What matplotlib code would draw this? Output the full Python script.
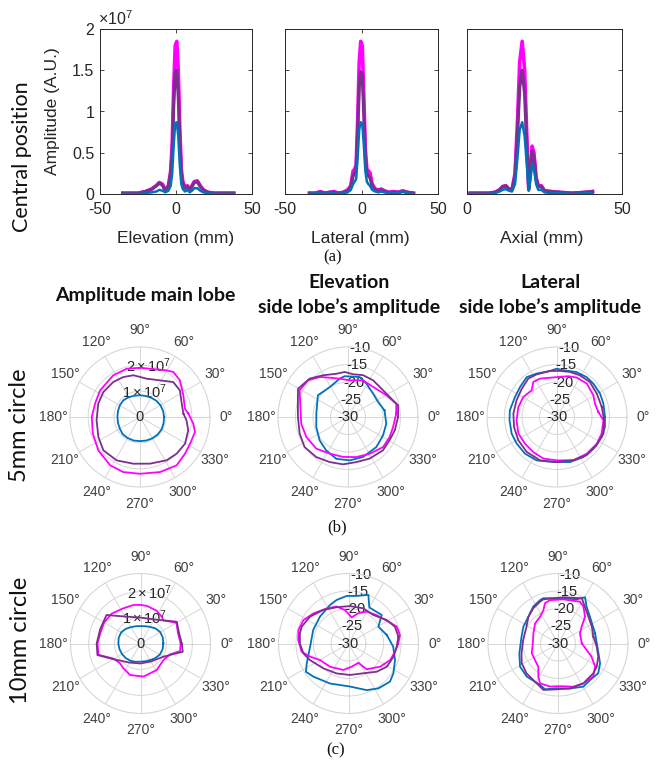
import numpy as np
import matplotlib
matplotlib.use('Agg')
import matplotlib.pyplot as plt

plt.rcParams['font.family'] = ['Liberation Sans', 'DejaVu Sans']
plt.rcParams['mathtext.fontset'] = 'custom'
plt.rcParams['mathtext.rm'] = 'Liberation Sans'
plt.rcParams['mathtext.it'] = 'Liberation Sans:italic'
plt.rcParams['mathtext.bf'] = 'Liberation Sans:bold'
plt.rcParams['axes.unicode_minus'] = False

# ---------------- data: (a) central position profiles (amplitude x 1e7) -------------
x_elev = [-35, -30, -25, -20, -16, -13, -11, -9, -7, -5, -3.5, -2.5, -1.5, -0.5, 0.5, 1.5,
          2.5, 3.5, 4.5, 6, 7.5, 9, 10.5, 12, 14, 16, 18, 21, 25, 30, 35, 38]
elev_mag = [0.01, 0.01, 0.01, 0.03, 0.06, 0.10, 0.14, 0.12, 0.05, 0.10, 0.28, 0.60, 1.30, 1.80,
            1.85, 1.50, 0.80, 0.30, 0.15, 0.08, 0.10, 0.06, 0.10, 0.15, 0.16, 0.10, 0.05, 0.02,
            0.01, 0.01, 0.01, 0.01]
elev_pur = [0.01, 0.01, 0.01, 0.03, 0.06, 0.10, 0.13, 0.11, 0.04, 0.09, 0.25, 0.50, 1.10, 1.48,
            1.50, 1.20, 0.65, 0.25, 0.12, 0.07, 0.09, 0.05, 0.09, 0.14, 0.15, 0.09, 0.05, 0.02,
            0.01, 0.01, 0.01, 0.01]
elev_blu = [0.0, 0.0, 0.0, 0.01, 0.02, 0.03, 0.05, 0.04, 0.02, 0.04, 0.10, 0.25, 0.60, 0.86,
            0.87, 0.70, 0.35, 0.12, 0.06, 0.03, 0.05, 0.02, 0.04, 0.07, 0.07, 0.04, 0.02, 0.01,
            0.0, 0.0, 0.0, 0.0]

x_lat = [-34, -30, -27, -24, -21, -18, -15, -12, -9, -7, -5.5, -4.5, -3.5, -2.5, -1.5, -0.5,
         0.5, 1.5, 2.5, 3.5, 4.5, 5.5, 7, 9, 11, 13, 15, 18, 21, 24, 27, 30, 34]
lat_mag = [0.01, 0.01, 0.03, 0.01, 0.02, 0.03, 0.01, 0.02, 0.05, 0.10, 0.28, 0.30, 0.35, 0.90,
           1.60, 1.85, 1.80, 1.20, 0.55, 0.30, 0.28, 0.26, 0.12, 0.06, 0.05, 0.06, 0.04, 0.02,
           0.03, 0.02, 0.04, 0.02, 0.01]
lat_pur = [0.01, 0.01, 0.02, 0.01, 0.02, 0.02, 0.01, 0.02, 0.04, 0.09, 0.22, 0.25, 0.30, 0.75,
           1.30, 1.48, 1.45, 1.00, 0.45, 0.25, 0.22, 0.20, 0.10, 0.05, 0.04, 0.05, 0.03, 0.02,
           0.02, 0.02, 0.03, 0.02, 0.01]
lat_blu = [0.0, 0.01, 0.01, 0.0, 0.01, 0.01, 0.0, 0.01, 0.02, 0.05, 0.12, 0.15, 0.18, 0.45,
           0.78, 0.87, 0.85, 0.60, 0.28, 0.15, 0.12, 0.10, 0.05, 0.03, 0.02, 0.03, 0.02, 0.01,
           0.01, 0.01, 0.03, 0.01, 0.0]

x_ax = [1, 4, 7, 9, 10.5, 11.5, 12.5, 13.5, 14.5, 15.5, 16.3, 17, 17.8, 18.6, 19.3, 19.9,
        20.5, 21, 21.6, 22.3, 23, 24, 25, 27, 30, 34, 38, 40.5]
ax_mag = [0.01, 0.01, 0.01, 0.02, 0.05, 0.09, 0.10, 0.06, 0.05, 0.25, 0.90, 1.60, 1.85, 1.50,
          0.70, 0.08, 0.30, 0.58, 0.50, 0.20, 0.10, 0.10, 0.04, 0.03, 0.02, 0.01, 0.02, 0.03]
ax_pur = [0.01, 0.01, 0.01, 0.02, 0.05, 0.09, 0.10, 0.06, 0.05, 0.22, 0.75, 1.30, 1.50, 1.22,
          0.58, 0.05, 0.28, 0.52, 0.45, 0.18, 0.09, 0.09, 0.04, 0.03, 0.02, 0.01, 0.02, 0.03]
ax_blu = [0.0, 0.0, 0.0, 0.01, 0.03, 0.05, 0.06, 0.04, 0.03, 0.12, 0.45, 0.78, 0.87, 0.70,
          0.35, 0.04, 0.18, 0.37, 0.30, 0.12, 0.05, 0.05, 0.02, 0.01, 0.01, 0.0, 0.01, 0.01]

# ---------------- data: (b) 5 mm circle -------------------------------------------
# main lobe amplitude (x 1e7)
b1_blu_th = [0, 15, 30, 45, 60, 75, 90, 105, 120, 135, 150, 165, 180, 195, 210, 225, 240, 255,
             270, 285, 300, 315, 330, 345]
b1_blu_r = [0.93, 0.92, 0.91, 0.89, 0.86, 0.84, 0.84, 0.85, 0.88, 0.91, 0.90, 0.88, 0.87, 0.88,
            0.90, 0.94, 0.94, 0.94, 0.93, 0.94, 0.95, 0.96, 0.96, 0.94]
b1_mag_th = [4, 10.5, 26.6, 42.5, 53.5, 60.3, 78.3, 90, 105.4, 122.6, 146.3, 163.5, 180, 199.4,
             218.7, 238.2, 253, 270, 290, 307.2, 320.8, 332, 344.7, 352.9]
b1_mag_r = [1.87, 1.76, 1.87, 2.09, 2.16, 2.07, 1.90, 1.90, 1.93, 1.91, 1.85, 1.81, 1.86, 1.93,
            2.06, 2.19, 2.22, 2.19, 2.26, 2.34, 2.24, 2.19, 2.20, 2.07]
b1_pur_th = [4.4, 17.7, 33.7, 46.4, 61.4, 80, 99, 112.6, 127.3, 145.7, 162.3, 184.4, 205.6,
             222.3, 241.7, 261.9, 282.1, 301.6, 315, 329.3, 344.6, 355.9]
b1_pur_r = [1.68, 1.69, 1.85, 1.86, 1.61, 1.50, 1.63, 1.67, 1.70, 1.71, 1.69, 1.68, 1.78, 1.91,
            1.90, 1.82, 1.84, 1.96, 2.00, 2.02, 1.93, 1.80]

# elevation side lobe amplitude (dB)
b2_blu_th = [10.3, 26.6, 43, 61.2, 73.7, 94.7, 102.3, 121.4, 144.2, 174, 197.5, 219.5, 237,
             254.4, 272.2, 290.6, 313.4, 332.4, 350.1]
b2_blu_r = [-19.4, -20.4, -20.2, -19.1, -18.1, -18.3, -18.8, -20.0, -19.4, -20.9, -20.5, -19.5,
            -18.6, -17.6, -17.6, -17.8, -18.2, -18.7, -18.9]
b2_mag_th = [3.9, 15.4, 29.5, 50.2, 67.8, 87.4, 102.3, 115, 125.3, 137.5, 151.1, 168.2, 188.1,
             205.6, 225, 243.4, 262.9, 281.8, 300.6, 319.4, 334.4, 347.5]
b2_mag_r = [-16.2, -15.7, -17.4, -18.8, -18.7, -19.5, -18.8, -17.6, -16.0, -14.5, -14.2, -16.1,
            -16.5, -16.8, -17.2, -18.3, -18.5, -18.3, -17.8, -16.8, -16.8, -16.8]
b2_pur_th = [0, 13.1, 20.3, 37.3, 55.7, 70.2, 83.3, 94.2, 105.1, 121, 135, 150.5, 161.6, 180,
             199, 214.7, 231.6, 247.8, 264, 280.5, 297.5, 316.4, 330.8, 344.1]
b2_pur_r = [-15.7, -15.3, -16.3, -17.4, -17.3, -17.3, -17.7, -17.1, -17.2, -16.1, -14.5, -13.6,
            -14.9, -15.7, -15.4, -14.9, -15.4, -16.1, -16.4, -16.9, -16.6, -16.2, -16.4, -16.1]

# lateral side lobe amplitude (dB)
b3_blu_th = [0, 16.1, 28.5, 42.5, 53.4, 66.4, 82.3, 90.4, 98.7, 115.1, 127.2, 140.9, 154.5,
             171.9, 184, 200.2, 213.5, 228.9, 244.9, 265.3, 286.1, 303.4, 318.9, 335.9, 348.2]
b3_blu_r = [-16.3, -16.2, -16.0, -15.9, -15.8, -16.0, -16.5, -16.2, -16.7, -16.3, -15.7, -16.4,
            -16.7, -16.4, -16.4, -16.2, -16.2, -16.1, -16.3, -17.1, -16.6, -16.3, -16.2, -16.0,
            -16.0]
b3_pur_th = [12.6, 30.5, 46.7, 61.1, 73.9, 86.3, 98.7, 115.5, 126.8, 141.3, 157.5, 175.6, 193.1,
             211.1, 229.1, 248.6, 269.6, 290.7, 307.7, 324.5, 340.2, 356]
b3_pur_r = [-16.9, -16.8, -16.3, -16.4, -16.6, -16.8, -16.7, -16.5, -16.3, -17.1, -17.5, -17.5,
            -17.4, -17.1, -16.8, -16.7, -17.1, -16.8, -16.2, -16.1, -15.9, -16.5]
b3_mag_th = [6.9, 19.3, 30.8, 48.3, 63.4, 74.4, 85.7, 100.1, 113.9, 124.1, 133.5, 149.3, 165.5,
             184.7, 203.3, 219.8, 235.9, 251.8, 269.6, 290.7, 308.9, 326.1, 339.5, 355.9]
b3_mag_r = [-18.1, -18.5, -17.9, -17.2, -17.4, -17.9, -18.5, -18.6, -18.0, -17.9, -19.5, -18.8,
            -18.6, -18.4, -18.0, -18.1, -17.9, -17.5, -17.6, -16.8, -16.5, -16.3, -16.4, -16.7]

# ---------------- data: (c) 10 mm circle ------------------------------------------
c1_blu_th = [0, 15, 30, 45, 60, 75, 90, 105, 120, 135, 150, 165, 180, 195, 210, 225, 240, 255,
             270, 285, 300, 315, 330, 345]
c1_blu_r = [0.88, 0.89, 0.88, 0.82, 0.74, 0.69, 0.67, 0.69, 0.73, 0.80, 0.86, 0.87, 0.855,
            0.84, 0.82, 0.80, 0.77, 0.73, 0.70, 0.71, 0.74, 0.80, 0.86, 0.88]
c1_mag_th = [0, 15, 30, 45, 52, 64, 80, 90, 100.5, 116, 134, 150, 165, 180, 195, 210, 224,
             235.3, 251.6, 275, 301.4, 324.2, 340, 349]
c1_mag_r = [1.55, 1.50, 1.60, 1.26, 1.32, 1.41, 1.47, 1.49, 1.51, 1.51, 1.60, 1.62, 1.60, 1.66,
            1.68, 1.18, 1.10, 1.16, 1.28, 1.28, 1.20, 1.09, 1.22, 1.55]
c1_pur_th = [0, 15, 31, 45, 60, 90, 120, 140, 160, 180, 195, 210, 240, 270, 300, 330, 340, 349]
c1_pur_r = [1.59, 1.54, 1.63, 1.26, 1.07, 1.00, 1.20, 1.71, 1.65, 1.69, 1.72, 1.21, 0.85, 0.77,
            0.80, 1.02, 1.26, 1.66]

c2_blu_th = [12.6, 29.4, 40.7, 60, 67.8, 80.2, 92.2, 105.2, 115.7, 136.7, 159, 184.7, 205.4,
             213.5, 223.3, 245.1, 272, 291.3, 303.6, 317.4, 326.4, 340.5, 356]
c2_blu_r = [-18.8, -20.2, -17.5, -18.1, -15.0, -16.2, -16.4, -17.1, -17.8, -18.8, -19.2, -19.0,
            -16.8, -15.4, -16.2, -17.4, -17.7, -15.7, -14.6, -13.9, -14.6, -15.9, -17.2]
c2_mag_th = [0, 9.4, 19.3, 28.7, 45.3, 60.3, 72, 83.1, 96, 107.8, 121.8, 139.4, 152.5, 164.9,
             176, 189.9, 198.9, 210.1, 231.4, 259, 277.8, 297.2, 305.1, 323.7, 338.3, 350]
c2_mag_r = [-15.8, -15.1, -15.4, -17.0, -18.6, -19.5, -20.9, -22.5, -20.4, -18.9, -18.2, -16.8,
            -15.5, -15.2, -15.6, -16.4, -18.4, -20.6, -21.5, -22.3, -23.3, -23.8, -21.0, -18.8,
            -17.2, -16.5]
c2_pur_th = [7.8, 19.9, 31.6, 48.9, 67.1, 87.7, 108.1, 126.9, 145.1, 160.2, 168.2, 180, 192.3,
             203.2, 224.6, 248.4, 272.7, 296.4, 315, 328.7, 343.6, 356.2]
c2_pur_r = [-15.6, -15.9, -17.2, -19.2, -19.1, -19.3, -19.1, -18.0, -16.6, -15.8, -15.8, -16.1,
            -16.8, -18.0, -19.9, -20.8, -21.0, -20.5, -18.6, -17.2, -16.6, -16.2]

c3_blu_th = [15.4, 40, 52.1, 59.7, 67.1, 83.3, 108, 112.5, 123.8, 137.9, 154.1, 169.3, 194.3,
             211.4, 226.6, 246.6, 254.2, 268.3, 285, 300.4, 311.2, 323.5, 334.7, 346.3]
c3_blu_r = [-19.0, -18.1, -16.7, -14.7, -16.3, -17.0, -16.4, -16.6, -17.3, -18.6, -19.0, -19.4,
            -18.6, -17.3, -17.0, -17.1, -16.4, -17.2, -16.7, -15.7, -16.1, -15.7, -16.7, -18.1]
c3_pur_th = [10.9, 26.6, 41.5, 53.8, 62.3, 83.4, 108.4, 113.3, 125, 137.9, 151.8, 174.2, 195.1,
             208.6, 223.6, 235.9, 252.5, 268.3, 285, 302.5, 319.8, 329.1, 341.9, 355.3]
c3_pur_r = [-19.7, -19.2, -18.4, -17.0, -15.4, -16.7, -16.7, -17.0, -17.7, -18.6, -19.8, -20.0,
            -19.2, -18.2, -17.6, -17.4, -16.1, -16.9, -16.7, -16.5, -16.8, -17.1, -17.9, -18.9]
c3_mag_th = [0.4, 24.8, 35.4, 44.8, 55.5, 62.3, 83.1, 100.4, 107.9, 113.6, 123.9, 138.8, 157.6,
             179.6, 200.5, 215.7, 229.7, 239.3, 245.7, 259.5, 272.7, 289.6, 302.5, 316.8, 328,
             338.6, 347.2]
c3_mag_r = [-23.2, -23.1, -21.7, -19.1, -17.2, -16.5, -17.3, -17.4, -17.9, -19.6, -20.8, -21.3,
            -22.4, -22.8, -22.0, -21.9, -21.3, -19.0, -17.5, -17.5, -17.8, -16.9, -16.5, -16.2,
            -17.5, -19.7, -21.6]

theta_ticks = list(range(0, 360, 30))
main_rticks = [1, 2]
main_rlabels = ['0', r'$1\times10^7$', r'$2\times10^7$']
side_rticks = [-25, -20, -15]
side_rlabels = ['-30', '-25', '-20', '-15', '-10']

# ---------------- styling ---------------------------------------------------------
BLUE = '#0072BD'
MAG = '#FF00FF'
PUR = '#7E2F8E'
TXT = '#262626'
GRID = '#D6D6D6'

W, H = 668, 769
fig = plt.figure(figsize=(W / 100, H / 100), dpi=100)


def box(l, t, w, h):
    return [l / W, 1 - (t + h) / H, w / W, h / H]


def fx(x):
    return x / W


def fy(y):
    return 1 - y / H


# ---------------- (a) top row -----------------------------------------------------
profiles = [
    (x_elev, elev_mag, elev_pur, elev_blu, (-50, 50), [-50, 0, 50], box(100, 29, 152, 165),
     'Elevation (mm)', 176),
    (x_lat, lat_mag, lat_pur, lat_blu, (-50, 50), [-50, 0, 50], box(285, 29, 153, 165),
     'Lateral (mm)', 360),
    (x_ax, ax_mag, ax_pur, ax_blu, (0, 50), [0, 50], box(467, 29, 155, 165),
     'Axial (mm)', 542),
]
for i, (xx, ym, yp, yb, xl, xt, rect, lab, lx) in enumerate(profiles):
    ax = fig.add_axes(rect)
    ax.plot(xx, ym, color=MAG, lw=2.6, solid_joinstyle='round')
    ax.plot(xx, yp, color=PUR, lw=2.4, solid_joinstyle='round')
    ax.plot(xx, yb, color=BLUE, lw=1.8, solid_joinstyle='round')
    ax.set_xlim(*xl)
    ax.set_ylim(0, 2)
    ax.set_xticks(xt)
    ax.set_xticklabels([str(v) for v in xt])
    ax.set_yticks([0, 0.5, 1, 1.5, 2])
    if i == 0:
        ax.set_yticklabels(['0', '0.5', '1', '1.5', '2'])
    else:
        ax.set_yticklabels([])
    ax.tick_params(direction='in', top=True, right=True, length=3, width=0.6,
                   labelsize=11.5, colors=TXT, pad=4)
    ax.tick_params(axis='x', pad=6)
    for s in ax.spines.values():
        s.set_color(TXT)
        s.set_linewidth(0.7)
    fig.text(fx(lx), fy(238), lab, ha='center', va='center', fontsize=12.5, color=TXT)

fig.text(fx(98), fy(19), r'$\times10^7$', ha='left', va='center', fontsize=11.5, color=TXT)
fig.text(fx(52), fy(111), 'Amplitude (A.U.)', rotation=90, ha='center', va='center',
         fontsize=12.5, color=TXT)
TF = ['Lato', 'DejaVu Sans']
fig.text(fx(22), fy(157), 'Central position', rotation=90, ha='center', va='center',
         fontsize=15.5, color='#111111', family=TF)
fig.text(fx(333), fy(257), '(a)', ha='center', va='center', fontsize=12,
         family=['Liberation Serif'], color='#111111')


# ---------------- polar panels -----------------------------------------------------
def polar_panel(cx, cy, series, rlim, rticks, rlab_vals, rlabels):
    ax = fig.add_axes(box(cx - 70, cy - 70, 140, 140), projection='polar')
    for th, r, c in series:
        t = np.deg2rad(np.r_[th, th[0]])
        rr = np.r_[r, r[0]]
        ax.plot(t, rr, color=c, lw=1.3, zorder=4)
    ax.set_ylim(*rlim)
    ax.set_yticks(rticks)
    ax.set_yticklabels([])
    ax.set_thetagrids(theta_ticks, [f'{a}°' for a in theta_ticks])
    ax.tick_params(axis='x', labelsize=10, colors='#404040', pad=1.5)
    ax.grid(True, color=GRID, lw=0.7)
    ax.spines['polar'].set_color(GRID)
    ax.spines['polar'].set_linewidth(0.8)
    for rv, lab in zip(rlab_vals, rlabels):
        ax.text(np.deg2rad(80), rv, lab, ha='center', va='center', fontsize=10.5,
                color=TXT, zorder=2)
    return ax


main_lim = (0, 2.7)
side_lim = (-30, -10)
polar_panel(140, 417, [(b1_blu_th, b1_blu_r, BLUE), (b1_mag_th, b1_mag_r, MAG),
                       (b1_pur_th, b1_pur_r, PUR)], main_lim, main_rticks, [0, 1, 2],
            main_rlabels)
polar_panel(348, 417, [(b2_blu_th, b2_blu_r, BLUE), (b2_mag_th, b2_mag_r, MAG),
                       (b2_pur_th, b2_pur_r, PUR)], side_lim, side_rticks,
            [-30, -25, -20, -15, -10], side_rlabels)
polar_panel(557, 417, [(b3_blu_th, b3_blu_r, BLUE), (b3_mag_th, b3_mag_r, MAG),
                       (b3_pur_th, b3_pur_r, PUR)], side_lim, side_rticks,
            [-30, -25, -20, -15, -10], side_rlabels)
polar_panel(140.5, 643.5, [(c1_blu_th, c1_blu_r, BLUE), (c1_mag_th, c1_mag_r, MAG),
                           (c1_pur_th, c1_pur_r, PUR)], main_lim, main_rticks, [0, 1, 2],
            main_rlabels)
polar_panel(348.5, 643.5, [(c2_blu_th, c2_blu_r, BLUE), (c2_mag_th, c2_mag_r, MAG),
                           (c2_pur_th, c2_pur_r, PUR)], side_lim, side_rticks,
            [-30, -25, -20, -15, -10], side_rlabels)
polar_panel(558, 643.5, [(c3_blu_th, c3_blu_r, BLUE), (c3_mag_th, c3_mag_r, MAG),
                         (c3_pur_th, c3_pur_r, PUR)], side_lim, side_rticks,
            [-30, -25, -20, -15, -10], side_rlabels)

# ---------------- titles and labels ------------------------------------------------
fig.text(fx(145), fy(295), 'Amplitude main lobe', ha='center', va='center', fontsize=14,
         fontweight='bold', family=TF, color='#111111')
fig.text(fx(349), fy(282), 'Elevation', ha='center', va='center', fontsize=14,
         fontweight='bold', family=TF, color='#111111')
fig.text(fx(349), fy(307), 'side lobe’s amplitude', ha='center', va='center', fontsize=14,
         fontweight='bold', family=TF, color='#111111')
fig.text(fx(550), fy(282), 'Lateral', ha='center', va='center', fontsize=14,
         fontweight='bold', family=TF, color='#111111')
fig.text(fx(550), fy(307), 'side lobe’s amplitude', ha='center', va='center', fontsize=14,
         fontweight='bold', family=TF, color='#111111')
fig.text(fx(20), fy(425), '5mm circle', rotation=90, ha='center', va='center', fontsize=17,
         family=TF, color='#111111')
fig.text(fx(21), fy(640), '10mm circle', rotation=90, ha='center', va='center', fontsize=17,
         family=TF, color='#111111')
fig.text(fx(337), fy(527), '(b)', ha='center', va='center', fontsize=12,
         family=['Liberation Serif'], color='#111111')
fig.text(fx(336), fy(750), '(c)', ha='center', va='center', fontsize=12,
         family=['Liberation Serif'], color='#111111')

fig.savefig('out.png', dpi=100, facecolor='white')
